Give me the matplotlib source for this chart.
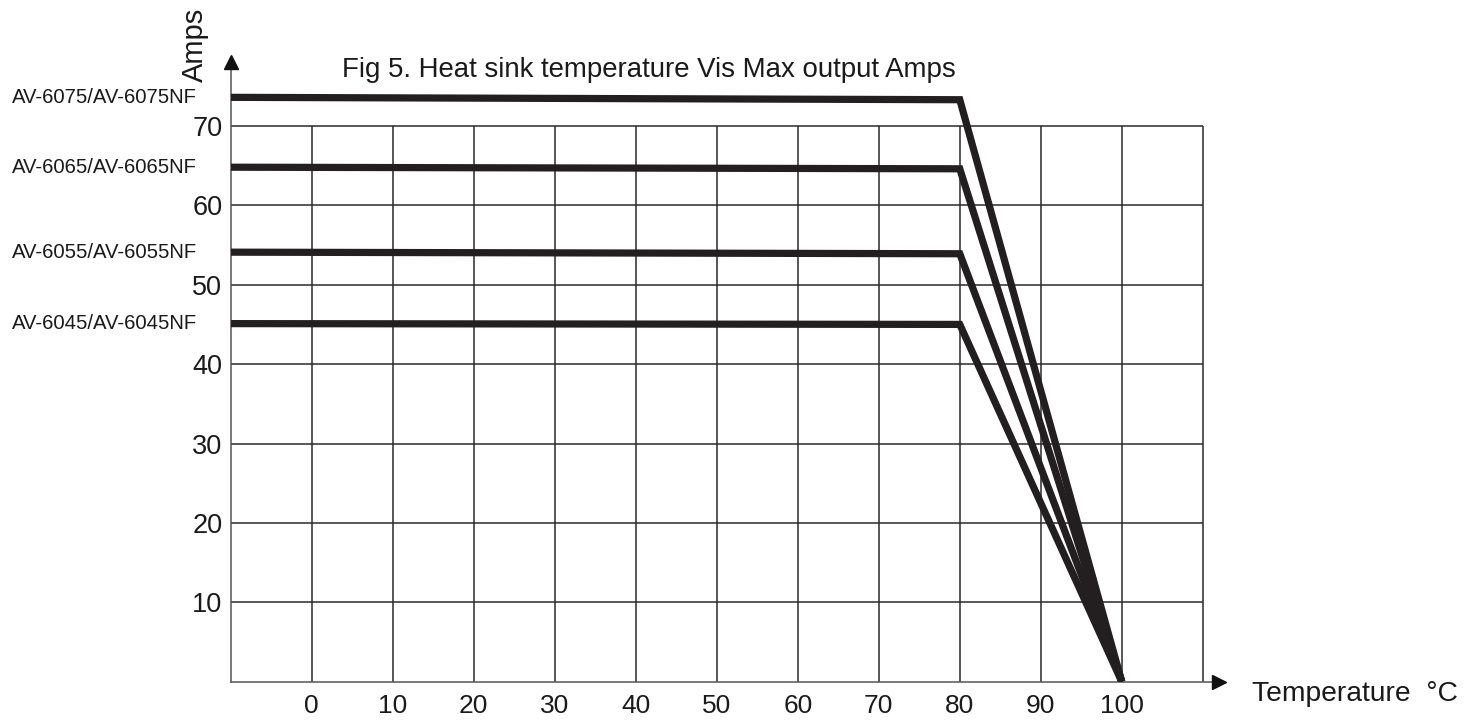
import matplotlib
matplotlib.use("Agg")
import matplotlib.pyplot as plt
from matplotlib.transforms import blended_transform_factory

plt.rcParams['font.family'] = ['Liberation Sans', 'DejaVu Sans']

# Data
temps = [-10, 80, 100]
models = ["AV-6075/AV-6075NF", "AV-6065/AV-6065NF", "AV-6055/AV-6055NF", "AV-6045/AV-6045NF"]
amps = [
    [73.6, 73.3, 0],
    [64.8, 64.6, 0],
    [54.1, 53.9, 0],
    [45.1, 45.0, 0],
]
x_ticks = [0, 10, 20, 30, 40, 50, 60, 70, 80, 90, 100]
y_ticks = [10, 20, 30, 40, 50, 60, 70]
x_grid = [0, 10, 20, 30, 40, 50, 60, 70, 80, 90, 100, 110]
title = "Fig 5. Heat sink temperature Vis Max output Amps"

W, H = 1464, 720
fig = plt.figure(figsize=(W / 100, H / 100), dpi=100)
x0_px, x1_px = 230.7, 1219.0
y0_px, y1_px = 681.7, 62.4
ax = fig.add_axes([x0_px / W, 1 - y0_px / H, (x1_px - x0_px) / W, (y0_px - y1_px) / H])
ax.set_xlim(-10, 112)
ax.set_ylim(0, 78)

grid_c = '#2a2a2a'
# grid lines
ax.vlines(x_grid, 0, 70, colors=grid_c, linewidth=1.1, zorder=1)
ax.hlines(y_ticks, -10, 110, colors=grid_c, linewidth=1.1, zorder=1)

for vals in amps:
    ax.plot(temps, vals, color='#231f20', linewidth=5.2, solid_joinstyle='miter',
            solid_capstyle='butt', zorder=3)

for spine in ['top', 'right']:
    ax.spines[spine].set_visible(False)
for spine in ['left', 'bottom']:
    ax.spines[spine].set_color('#555555')
    ax.spines[spine].set_linewidth(1.1)

# arrowheads
ax.plot([1], [0], marker='>', color='#111111', markersize=10, transform=ax.transAxes,
        clip_on=False, zorder=4)
ax.plot([0], [1], marker='^', color='#111111', markersize=10, transform=ax.transAxes,
        clip_on=False, zorder=4)

ax.set_xticks(x_ticks)
ax.set_yticks(y_ticks)
ax.set_xticklabels([str(v) for v in x_ticks])
ax.set_yticklabels([str(v) for v in y_ticks])
ax.tick_params(axis='both', length=0, labelsize=19.5, colors='#1a1a1a')
ax.tick_params(axis='x', labelsize=19, pad=8.5)
ax.tick_params(axis='y', pad=6)

# model labels
tr = blended_transform_factory(fig.transFigure, ax.transData)
for name, vals in zip(models, amps):
    ax.text(12 / W, vals[0], name, transform=tr, ha='left', va='center',
            fontsize=14.6, color='#1a1a1a')

fig.text(342 / W, 1 - 77 / H, title, ha='left', va='baseline', fontsize=19.9, color='#1a1a1a')
fig.text(195 / W, 1 - 45 / H, "Amps", rotation=90, ha='center', va='center',
         fontsize=21, color='#1a1a1a')
fig.text(1252 / W, 1 - 694 / H, "Temperature  °C", ha='left', va='center',
         fontsize=20.3, color='#1a1a1a')

fig.savefig("out.png", dpi=100)
